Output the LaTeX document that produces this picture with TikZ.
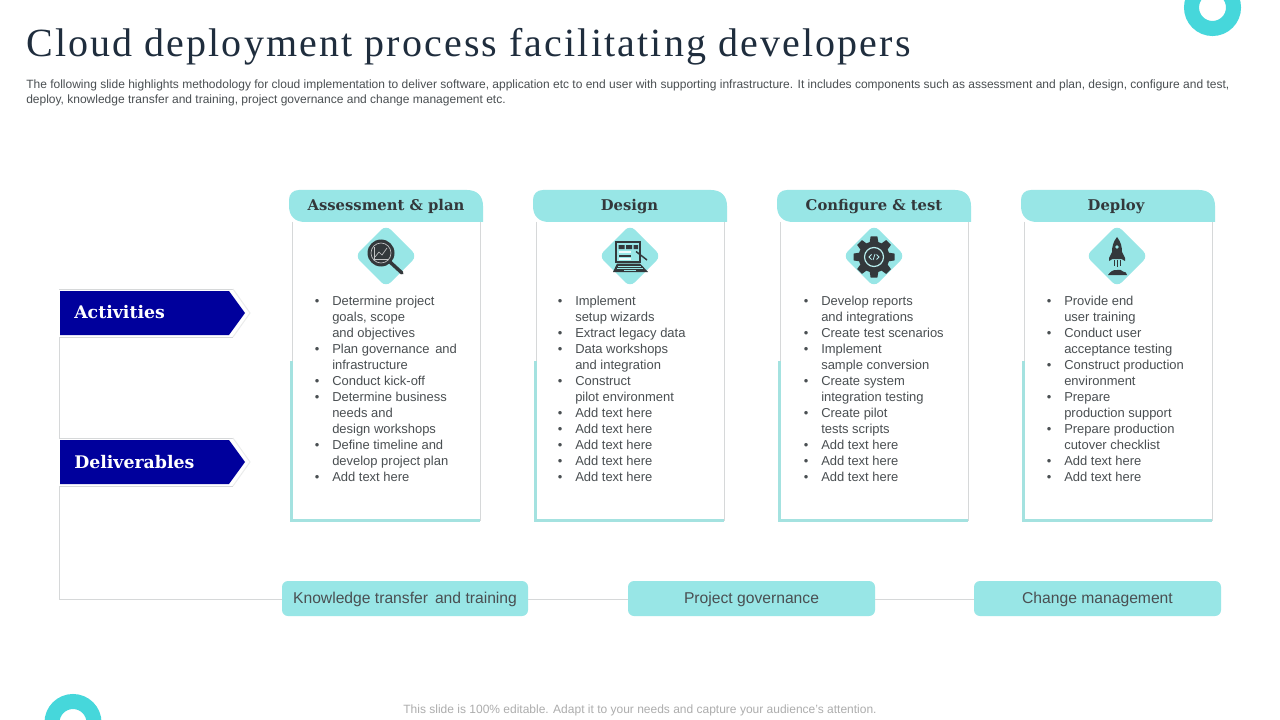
\documentclass[tikz,border=0pt]{standalone}
\usepackage{fontspec}
\setmainfont{Liberation Sans}
\newfontfamily\titlefont[LetterSpace=5.3]{Liberation Serif}
\newfontfamily\headfont[Scale=1]{DejaVu Serif}
\usetikzlibrary{calc,shapes.geometric}
\definecolor{tealfill}{HTML}{98E6E6}
\definecolor{tealedge}{HTML}{A4E2E0}
\definecolor{ringc}{HTML}{46D7DB}
\definecolor{navyc}{HTML}{00009C}
\definecolor{darkt}{HTML}{1F2D3D}
\definecolor{bodyt}{HTML}{4A4F52}
\definecolor{icond}{HTML}{33383B}
\definecolor{linec}{HTML}{D6D8D9}
\newlength{\pxu}\setlength{\pxu}{0.75pt}
\newcommand{\Bu}{\makebox[17\pxu][l]{\hspace{-0.3\pxu}\textbullet}}
\newcommand{\Co}{\hspace*{17\pxu}}
\newcommand{\Lo}[1]{\raisebox{-3.9pt}[0pt][0pt]{#1}}
\tikzset{
  x=0.75pt,y=-0.75pt,
  tabshape/.style={fill=tealfill},
  tabtext/.style={font=\headfont\bfseries\fontsize{11.1pt}{13pt}\selectfont,text=icond,inner sep=0pt},
  cardframe/.style={draw=linec,line width=0.75pt},
  cardedge/.style={draw=tealedge,line width=2.25pt},
  bodytext/.style={font=\fontsize{9.72pt}{12pt}\selectfont,text=bodyt,align=left,anchor=north west,inner sep=0pt},
  diam/.style={fill=tealfill,rounded corners=5pt},
  pill/.style={fill=tealfill,rounded corners=4.5pt,minimum height=26.25pt,inner sep=0pt,font=\fontsize{11.75pt}{14pt}\selectfont,text=bodyt},
  conn/.style={draw=linec,line width=0.75pt},
  armtext/.style={font=\headfont\bfseries\fontsize{13pt}{15pt}\selectfont,text=white,inner sep=0pt,anchor=west},
  armbox/.style={minimum width=126.75pt,minimum height=36pt,inner sep=0pt,anchor=north west},
  ring/.style={draw=ringc,line width=11.25pt},
}
% #1 tab left x, #2 name, #3 title, #4 centre-x of title
\newcommand{\cardbase}[4]{%
  \path[cardframe] (#1+3,222) -- (#1+3,520) -- (#1+191,520) -- (#1+191,222);
  \path[cardedge] (#1+2,361) -- (#1+2,520.5) -- (#1+191,520.5);
  \fill[tabshape] (#1,200) .. controls (#1,194) and (#1+4,190) .. (#1+10,190)
    -- (#1+178,190) .. controls (#1+188,190) and (#1+194,196) .. (#1+194,206)
    -- (#1+194,222) -- (#1+16,222) .. controls (#1+6,222) and (#1,216) .. (#1,206) -- cycle;
  \node[tabtext] (#2) at (#4,206.5) {#3};
}
\newcommand{\diamondat}[2]{%
  \fill[diam] (#1,#2-31) -- (#1+31,#2) -- (#1,#2+31) -- (#1-31,#2) -- cycle;
}
\begin{document}
\begin{tikzpicture}
\useasboundingbox (0,0) rectangle (1280,720);
\fill[white] (0,0) rectangle (1280,720);
% rings
\begin{scope}
\clip (0,0) rectangle (1280,720);
\draw[ring] (1212.5,7.5) circle[radius=21];
\draw[ring] (73,722.5) circle[radius=21];
\end{scope}
% title
\node[font=\titlefont\fontsize{30pt}{34pt}\selectfont,text=darkt,anchor=base west,inner sep=0pt] (title) at (26,57) {Cloud deployment process facilitating developers};
\node[font=\fontsize{9pt}{10.6pt}\selectfont,text=bodyt,anchor=north west,align=left,inner sep=0pt] (sub) at (26,80) {The following slide highlights methodology for cloud implementation to deliver software, application etc to end user with supporting infrastructure. It includes components such as assessment and plan, design, configure and test,\\deploy, knowledge transfer and training, project governance and change management etc.};
\node[font=\fontsize{9pt}{11pt}\selectfont,text=black!32,inner sep=0pt] (foot) at (640,710) {This slide is 100\% editable. Adapt it to your needs and capture your audience’s attention.};

% arrows
\foreach \ya/\nm in {291/act,440/del}{
  \fill[white] (59,\ya-2) -- (233,\ya-2) -- (250,\ya+22) -- (233,\ya+46) -- (59,\ya+46) -- cycle;
  \draw[linec,line width=0.75pt] (59,\ya-2) -- (233,\ya-2);
  \draw[linec,line width=0.75pt] (59,\ya+46) -- (233,\ya+46);
  \draw[linec!50!white,line width=0.75pt] (233,\ya-2) -- (250,\ya+22) -- (233,\ya+46);
  \fill[navyc] (60,\ya) -- (229,\ya) -- (245,\ya+22) -- (229,\ya+44) -- (60,\ya+44) -- cycle;
}
\node[armbox] (act) at (59,289) {};
\node[armbox] (del) at (59,438) {};
\path (act.north west) ++(15,23.5) node[armtext] (acttext) {Activities};
\path (del.north west) ++(15,24) node[armtext] (deltext) {Deliverables};

% pills
\node[pill,minimum width=184.5pt] (kt) at (405,598.5) {\Lo{Knowledge transfer\, and training}};
\node[pill,minimum width=185.25pt] (pg) at (751.5,598.5) {\Lo{Project governance}};
\node[pill,minimum width=185.25pt] (cm) at (1097.5,598.5) {\Lo{Change management}};
% connectors
\draw[conn] ($(act.north west)+(0,48)$) -- (del.north west);
\draw[conn] ($(del.north west)+(0,48)$) |- ($(kt.west)+(0,1)$);
\draw[conn] ($(kt.east)+(0,1)$) -- ($(pg.west)+(0,1)$);
\draw[conn] ($(pg.east)+(0,1)$) -- ($(cm.west)+(0,1)$);

% cards
\cardbase{289}{h1}{Assessment \& plan}{386}
\cardbase{533}{h2}{Design}{629.5}
\cardbase{777}{h3}{Configure \& test}{874}
\cardbase{1021}{h4}{Deploy}{1116}

\node[bodytext] (b1) at (315,295.5) {\Bu Determine project\\\Co goals, scope\\\Co and objectives\\\Bu Plan governance\, and\\\Co infrastructure\\\Bu Conduct kick-off\\\Bu Determine business\\\Co needs and\\\Co design workshops\\\Bu Define timeline and\\\Co develop project plan\\\Bu Add text here};
\node[bodytext] (b2) at (558,295.5) {\Bu Implement\\\Co setup wizards\\\Bu Extract legacy data\\\Bu Data workshops\\\Co and integration\\\Bu Construct\\\Co pilot environment\\\Bu Add text here\\\Bu Add text here\\\Bu Add text here\\\Bu Add text here\\\Bu Add text here};
\node[bodytext] (b3) at (804,295.5) {\Bu Develop reports\\\Co and integrations\\\Bu Create test scenarios\\\Bu Implement\\\Co sample conversion\\\Bu Create system\\\Co integration testing\\\Bu Create pilot\\\Co tests scripts\\\Bu Add text here\\\Bu Add text here\\\Bu Add text here};
\node[bodytext] (b4) at (1047,295.5) {\Bu Provide end\\\Co user training\\\Bu Conduct user\\\Co acceptance testing\\\Bu Construct production\\\Co environment\\\Bu Prepare\\\Co production support\\\Bu Prepare production\\\Co cutover checklist\\\Bu Add text here\\\Bu Add text here};

% diamonds
\diamondat{386}{256}
\diamondat{630}{256}
\diamondat{874}{256}
\diamondat{1117}{256}

% magnifier
\draw[icond,line width=2.6pt,line cap=round] (390,262) -- (402,273);
\fill[icond] (381,253) circle[radius=13.5];
\draw[white!70!icond,line width=0.5pt] (381,253) circle[radius=10];
\draw[white!70!icond,line width=0.4pt] (374,247) -- (374,259) -- (388,259);
\draw[white!70!icond,line width=0.5pt] (375,257) -- (379,252) -- (382,255) -- (387,248);

% laptop
\fill[icond] (615,241) rectangle (641,263);
\fill[tealfill] (617,243) rectangle (639,261);
\fill[icond] (618.5,245) rectangle (624.5,249) (626,245) rectangle (632,249) (633.5,245) rectangle (638,249);
\fill[white!85!tealfill] (618.5,250.5) rectangle (631,253);
\fill[icond] (618.5,254.5) rectangle (631,256.5);
\fill[white!85!tealfill] (618.5,258) rectangle (631,260);
\fill[icond] (613,272) -- (617,263.5) -- (640,263.5) -- (648,272) -- cycle;
\draw[tealfill,line width=0.4pt] (618,266) -- (641,266) (617,268) -- (643,268);
\fill[tealfill] (624,269.8) rectangle (636,271.2);
\draw[icond,line width=1.1pt] (636,251.5) -- (647,260);

% gear
\foreach \a in {0,45,...,315}{
  \fill[icond,rotate around={\a:(874,257)}] (870.6,236.5) -- (877.4,236.5) -- (878.6,244) -- (869.4,244) -- cycle;
}
\fill[icond] (874,257) circle[radius=15.5];
\draw[tealfill!70!white,line width=0.9pt] (874,257) circle[radius=9.5];
\draw[tealfill!70!white,line width=0.6pt] (871.5,254.5) -- (869,257) -- (871.5,259.5) (876.5,254.5) -- (879,257) -- (876.5,259.5) (875,254) -- (873,260);

% rocket
\fill[icond] (1117,237) .. controls (1121,242) and (1122,247) .. (1122,252) -- (1125,258) -- (1125,261) -- (1121.5,259) -- (1112.5,259) -- (1109,261) -- (1109,258) -- (1112,252) .. controls (1112,247) and (1113,242) .. (1117,237) -- cycle;
\fill[tealfill] (1117,247) circle[radius=1.8];
\draw[icond,line width=0.5pt] (1114,260) -- (1114,266) (1117,260) -- (1117,267) (1120,260) -- (1120,266);
\fill[icond] (1108,275) .. controls (1110,272) and (1113,269.5) .. (1117,270) .. controls (1119,269) and (1122,270) .. (1123,271.5) .. controls (1125,271.5) and (1127,273) .. (1127,275) -- cycle;
\end{tikzpicture}
\end{document}
